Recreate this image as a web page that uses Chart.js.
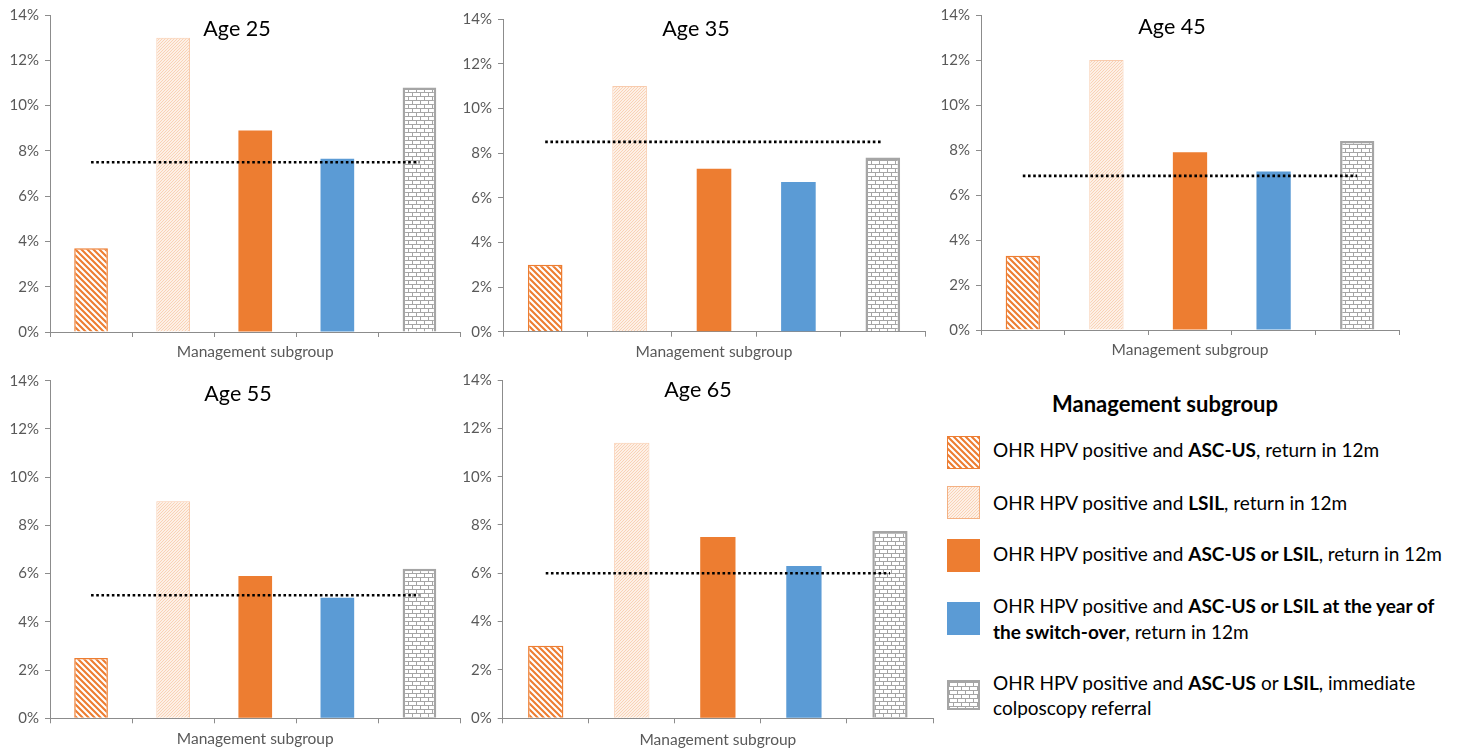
<!DOCTYPE html>
<html><head><meta charset="utf-8">
<script src="https://cdn.jsdelivr.net/npm/chart.js@4.4.1/dist/chart.umd.min.js"></script>
<style>
html,body{margin:0;padding:0;background:#fff;width:1465px;height:751px;overflow:hidden;font-family:Lato,'Open Sans',sans-serif;}
.box{position:absolute;}
.ttl{position:absolute;font-size:21.5px;color:#000;transform:translate(-50%,-50%);white-space:nowrap;}
#legTitle{position:absolute;left:1165px;top:403px;transform:translate(-50%,-50%);font-weight:bold;font-size:22px;white-space:nowrap;}
.sw{position:absolute;left:947px;width:33px;height:33px;box-sizing:border-box;}
.lt{position:absolute;left:993px;font-size:19px;line-height:25.7px;color:#000;white-space:nowrap;transform:translateY(-50%);}
</style></head><body>
<script>
// ---------- DATA ----------
const categories = ['ASC-US, return in 12m','LSIL, return in 12m','ASC-US or LSIL, return in 12m','ASC-US or LSIL at switch-over, return in 12m','ASC-US or LSIL, immediate colposcopy'];
const ages = ['Age 25','Age 35','Age 45','Age 55','Age 65'];
const age25 = [3.7, 13.0, 8.9, 7.65, 10.8];
const age35 = [3.0, 11.0, 7.3, 6.7, 7.8];
const age45 = [3.3, 12.0, 7.9, 7.05, 8.4];
const age55 = [2.5, 9.0, 5.9, 5.0, 6.2];
const age65 = [3.0, 11.4, 7.5, 6.3, 7.75];
const ref25 = [7.5, 7.5, 7.5, 7.5, 7.5];
const ref35 = [8.5, 8.5, 8.5, 8.5, 8.5];
const ref45 = [6.85, 6.85, 6.85, 6.85, 6.85];
const ref55 = [5.1, 5.1, 5.1, 5.1, 5.1];
const ref65 = [6.0, 6.0, 6.0, 6.0, 6.0];
const yTicks = [0, 2, 4, 6, 8, 10, 12, 14];
const xAxisTitle = 'Management subgroup';
const legendTitle = 'Management subgroup';
const legendItems = [
  'OHR HPV positive and <b>ASC-US</b>, return in 12m',
  'OHR HPV positive and <b>LSIL</b>, return in 12m',
  'OHR HPV positive and <b>ASC-US or LSIL</b>, return in 12m',
  'OHR HPV positive and <b>ASC-US or LSIL at the year of</b><br><b>the switch-over</b>, return in 12m',
  'OHR HPV positive and <b>ASC-US</b> or <b>LSIL</b>, immediate<br>colposcopy referral'
];
const seriesValues = [age25, age35, age45, age55, age65];
const refValues = [ref25, ref35, ref45, ref55, ref65];

// ---------- STYLE / LAYOUT ----------
const ORANGE = '#ED7D31', BLUE = '#5B9BD5', GRAY = '#A5A5A5', LIGHT = '#F4B183';
const AXIS = '#8C8C8C', TXT = '#595959';
const panels = [
  {left:0,   top:0,   w:466, h:365, padT:14,   padR:5.5, yW:50,   xH:33,   pb:4.2, tx:237,   ty:28},
  {left:455, top:0,   w:475, h:365, padT:19,   padR:5,   yW:48,   xH:33.3, pb:3.6, tx:696,   ty:28},
  {left:925, top:0,   w:480, h:365, padT:12.7, padR:6,   yW:56,   xH:35,   pb:5.6, tx:1172,  ty:26},
  {left:0,   top:365, w:466, h:386, padT:15.7, padR:5.5, yW:50,   xH:32.7, pb:3.2, tx:238,   ty:393},
  {left:455, top:365, w:483, h:386, padT:11.7, padR:5,   yW:47.7, xH:32.7, pb:2.2, tx:698,   ty:389}
];

function tile(w, h, draw){
  const c = document.createElement('canvas'); c.width = w; c.height = h;
  const x = c.getContext('2d'); draw(x, w, h); return c;
}
const tileA = tile(6, 6, (x, s) => { // "\" wide stripes
  x.fillStyle = '#fff'; x.fillRect(0,0,s,s);
  x.strokeStyle = ORANGE; x.lineWidth = 2.1;
  x.beginPath();
  x.moveTo(-1,-1); x.lineTo(s+1,s+1);
  x.moveTo(s-1,-1); x.lineTo(s+1,1);
  x.moveTo(-1,s-1); x.lineTo(1,s+1);
  x.stroke();
});
const tileB = tile(3, 3, (x, s) => { // "/" fine light stripes
  x.fillStyle = '#FDF0E6'; x.fillRect(0,0,s,s);
  x.strokeStyle = '#F6C4A1'; x.lineWidth = 0.7;
  x.beginPath();
  x.moveTo(-1,s+1); x.lineTo(s+1,-1);
  x.moveTo(-1,1); x.lineTo(1,-1);
  x.moveTo(s-1,s+1); x.lineTo(s+1,s-1);
  x.stroke();
});
const tileC = tile(8, 8, (x) => { // brick
  x.fillStyle = '#fff'; x.fillRect(0,0,8,8);
  x.fillStyle = GRAY;
  x.fillRect(0,0,8,1); x.fillRect(0,4,8,1);
  x.fillRect(0,0,1,4); x.fillRect(4,4,1,4);
});

document.body.insertAdjacentHTML('beforeend', '<div id="legTitle">'+legendTitle+'</div>');
const swStyles = [
  {bg:'url('+tileA.toDataURL()+')', border:'1.5px solid '+ORANGE, top:436},
  {bg:'url('+tileB.toDataURL()+')', border:'1px solid '+LIGHT, top:486},
  {bg:ORANGE, border:'none', top:539},
  {bg:BLUE, border:'none', top:602},
  {bg:'url('+tileC.toDataURL()+')', border:'2px solid '+GRAY, top:680}
];
const textY = [450, 503, 554, 619, 695.5];
legendItems.forEach((t, i) => {
  const s = swStyles[i];
  document.body.insertAdjacentHTML('beforeend',
    '<div class="sw" style="top:'+s.top+'px;background:'+s.bg+';border:'+s.border+';height:'+(i===4?30:33)+'px"></div>'+
    '<div class="lt" style="top:'+textY[i]+'px">'+t+'</div>');
});

Chart.defaults.font.family = 'Lato, "Open Sans", sans-serif';
Chart.defaults.animation = false;

panels.forEach((p, i) => {
  const div = document.createElement('div');
  div.className = 'box';
  div.style.cssText = 'left:'+p.left+'px;top:'+p.top+'px;width:'+p.w+'px;height:'+p.h+'px;';
  const cv = document.createElement('canvas');
  div.appendChild(cv);
  document.body.appendChild(div);
  const ttl = document.createElement('div');
  ttl.className = 'ttl'; ttl.textContent = ages[i];
  ttl.style.left = p.tx+'px'; ttl.style.top = p.ty+'px';
  document.body.appendChild(ttl);

  const ctx = cv.getContext('2d');
  const pA = ctx.createPattern(tileA, 'repeat');
  const pB = ctx.createPattern(tileB, 'repeat');
  const pC = ctx.createPattern(tileC, 'repeat');

  new Chart(cv, {
    data: {
      labels: categories,
      datasets: [
        {
          type: 'line', data: refValues[i], order: 0,
          borderColor: '#000', borderWidth: 2.6, borderDash: [2.6, 2.6],
          pointRadius: 0, fill: false, tension: 0
        },
        {
          type: 'bar', data: seriesValues[i], order: 1,
          backgroundColor: [pA, pB, ORANGE, BLUE, pC],
          borderColor: [ORANGE, '#F8CBAD', ORANGE, BLUE, GRAY],
          borderWidth: [1.5, 1, 0, 0, 2.5],
          barPercentage: 0.41, categoryPercentage: 1
        }
      ]
    },
    options: {
      responsive: true, maintainAspectRatio: false,
      layout: { padding: { left: 0, top: p.padT, right: p.padR, bottom: 0 } },
      plugins: { legend: { display: false }, tooltip: { enabled: false } },
      scales: {
        x: {
          offset: true,
          grid: { offset: true, drawOnChartArea: false, drawTicks: true, tickLength: 5, color: AXIS },
          border: { display: true, color: AXIS, width: 1 },
          ticks: { display: false },
          title: { display: true, text: xAxisTitle, color: TXT, font: { size: 15.5 }, padding: { top: 0, bottom: p.pb } },
          afterFit: (s) => { s.height = p.xH; }
        },
        y: {
          min: 0, max: 14,
          afterBuildTicks: (s) => { s.ticks = yTicks.map(v => ({ value: v })); },
          grid: { drawOnChartArea: false, drawTicks: true, tickLength: 5, color: AXIS },
          border: { display: true, color: AXIS, width: 1 },
          ticks: { color: TXT, font: { size: 15 }, padding: 6, callback: (v) => v + '%' },
          afterFit: (s) => { s.width = p.yW; }
        }
      }
    }
  });
});
</script>
</body></html>
